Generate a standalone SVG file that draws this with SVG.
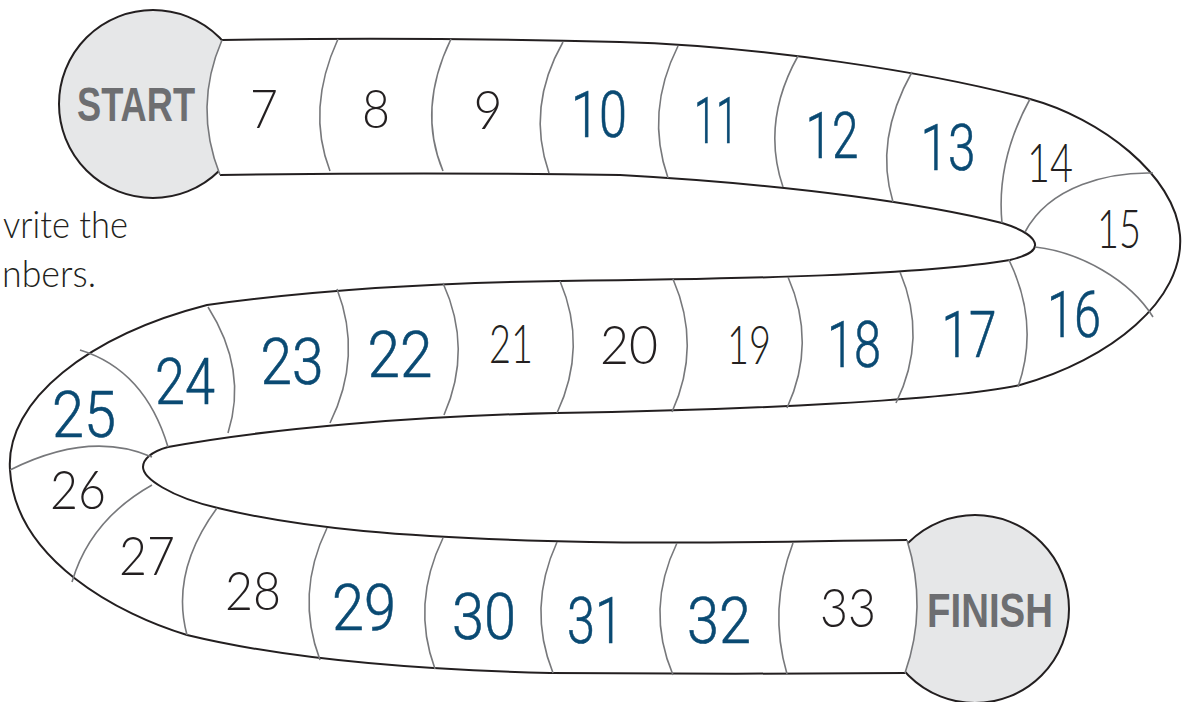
<svg xmlns="http://www.w3.org/2000/svg" width="1187" height="702" viewBox="0 0 1187 702">
<style>
.edge{fill:none;stroke:#231f20;stroke-width:2}
.div{fill:none;stroke:#77787b;stroke-width:1.6}
.circ{fill:#e6e7e8;stroke:#231f20;stroke-width:2}
.blk{font-family:Lato,"Open Sans",sans-serif;font-weight:300;font-size:53px;fill:#231f20;text-anchor:middle}
.blu{font-family:Roboto,"Open Sans",sans-serif;font-weight:300;font-size:65px;fill:#0a4a73;text-anchor:middle;stroke:#0a4a73;stroke-width:0.6}
.lbl{font-family:"Liberation Sans",Arial,sans-serif;font-weight:700;font-size:49px;fill:#6d6e71;text-anchor:middle}
.ins{font-family:Lato,"Open Sans",sans-serif;font-weight:300;font-size:37px;fill:#231f20}
</style>
<rect width="1187" height="702" fill="#ffffff"/>
<text class="ins" x="3" y="238" textLength="125" lengthAdjust="spacingAndGlyphs">vrite the</text>
<text class="ins" x="2" y="287" textLength="94" lengthAdjust="spacingAndGlyphs">nbers.</text>
<g id="start"><circle class="circ" cx="153" cy="104" r="94"/></g>
<g id="finish"><circle class="circ" cx="975" cy="609" r="94"/></g>
<g id="track">
<path fill="#ffffff" d="M222,40 C350,38 500,39 620,42 C760,46 930,72 1030,99 C1100,118 1175,175 1180,235 C1185,300 1110,360 1020,385 C950,400 750,410 557,413 C420,416 270,428 168,447 C150,452 143,460 143,467 C143,478 170,497 218,508 C300,528 400,538 590,542 C700,544 800,541 907,540 Q928,607.5 905,673 C800,674 650,674 550,673 C420,670 290,660 187,635 C120,615 15,560 10,470 C5,400 90,335 207,305 C300,292 420,283 560,281 C750,279 920,275 1010,260 C1030,255 1036,250 1035,244 C1034,238 1025,230 1002,223 C930,205 800,185 620,175 C500,173 350,173 220,175 Q193,107 222,40 Z"/>
<path class="edge" d="M222,40 C350,38 500,39 620,42 C760,46 930,72 1030,99 C1100,118 1175,175 1180,235 C1185,300 1110,360 1020,385 C950,400 750,410 557,413 C420,416 270,428 168,447 C150,452 143,460 143,467 C143,478 170,497 218,508 C300,528 400,538 590,542 C700,544 800,541 907,540"/>
<path class="edge" d="M905,673 C800,674 650,674 550,673 C420,670 290,660 187,635 C120,615 15,560 10,470 C5,400 90,335 207,305 C300,292 420,283 560,281 C750,279 920,275 1010,260 C1030,255 1036,250 1035,244 C1034,238 1025,230 1002,223 C930,205 800,185 620,175 C500,173 350,173 220,175"/>
</g>
<g id="connectors">
<path class="div" d="M222,40 Q193,107 220,175"/>
<path class="div" d="M338,39 Q306,109 330,171"/>
<path class="div" d="M451,39 Q417,109 443,171"/>
<path class="div" d="M563,42 Q526,107 549,173"/>
<path class="div" d="M678,46 Q645,112 668,178"/>
<path class="div" d="M798,56 Q761,122 783,187"/>
<path class="div" d="M912,72 Q874,140 893,202"/>
<path class="div" d="M1030,99 Q996,161 1002,223"/>
<path class="div" d="M1153,173 C1110,172 1050,185 1025,232"/>
<path class="div" d="M1035,247 C1080,252 1130,280 1153,317"/>
<path class="div" d="M1009,260 Q1040,324 1018,387"/>
<path class="div" d="M900,272 Q928,338 896,403"/>
<path class="div" d="M788,277 Q817,343 787,408"/>
<path class="div" d="M673,279 Q702,346 672,412"/>
<path class="div" d="M560,281 Q588,347 557,413"/>
<path class="div" d="M443,283 Q473,349 444,415"/>
<path class="div" d="M337,289 Q363,356 330,423"/>
<path class="div" d="M208,307 Q248,370 228,433"/>
<path class="div" d="M80,350 Q145,370 168,447"/>
<path class="div" d="M10,470 Q90,430 152,457"/>
<path class="div" d="M152,485 Q90,520 72,582"/>
<path class="div" d="M217,508 Q170,572 187,635"/>
<path class="div" d="M327,528 Q295,594 320,660"/>
<path class="div" d="M443,538 Q411,604 435,669"/>
<path class="div" d="M557,542 Q527,608 553,673"/>
<path class="div" d="M677,543 Q645,609 673,675"/>
<path class="div" d="M793,543 Q768,609 787,674"/>
<path class="div" d="M907,540 Q928,607.5 905,673"/>
</g>
<g id="labels">
<text class="lbl" x="136" y="121" textLength="118" lengthAdjust="spacingAndGlyphs">START</text>
<text class="lbl" x="990" y="627" textLength="126" lengthAdjust="spacingAndGlyphs">FINISH</text>
</g>
<g id="cells">
<text class="blk" x="264" y="128" textLength="28" lengthAdjust="spacingAndGlyphs">7</text>
<text class="blk" x="376" y="128" textLength="28" lengthAdjust="spacingAndGlyphs">8</text>
<text class="blk" x="488" y="129" textLength="29" lengthAdjust="spacingAndGlyphs">9</text>
<text class="blu" x="599" y="137" textLength="56" lengthAdjust="spacingAndGlyphs">10</text>
<text class="blu" x="716" y="143" textLength="44" lengthAdjust="spacingAndGlyphs">11</text>
<text class="blu" x="832" y="158" textLength="53" lengthAdjust="spacingAndGlyphs">12</text>
<text class="blu" x="948" y="170" textLength="55" lengthAdjust="spacingAndGlyphs">13</text>
<text class="blk" x="1050" y="182" textLength="46" lengthAdjust="spacingAndGlyphs">14</text>
<text class="blk" x="1119" y="248" textLength="44" lengthAdjust="spacingAndGlyphs">15</text>
<text class="blu" x="1074" y="337" textLength="54" lengthAdjust="spacingAndGlyphs">16</text>
<text class="blu" x="969" y="357" textLength="55" lengthAdjust="spacingAndGlyphs">17</text>
<text class="blu" x="854" y="367" textLength="54" lengthAdjust="spacingAndGlyphs">18</text>
<text class="blk" x="749" y="364" textLength="44" lengthAdjust="spacingAndGlyphs">19</text>
<text class="blk" x="629" y="364" textLength="58" lengthAdjust="spacingAndGlyphs">20</text>
<text class="blk" x="511" y="363" textLength="44" lengthAdjust="spacingAndGlyphs">21</text>
<text class="blu" x="400" y="377" textLength="65" lengthAdjust="spacingAndGlyphs">22</text>
<text class="blu" x="292" y="384" textLength="63" lengthAdjust="spacingAndGlyphs">23</text>
<text class="blu" x="185" y="404" textLength="60" lengthAdjust="spacingAndGlyphs">24</text>
<text class="blu" x="84" y="437" textLength="64" lengthAdjust="spacingAndGlyphs">25</text>
<text class="blk" x="78" y="509" textLength="56" lengthAdjust="spacingAndGlyphs">26</text>
<text class="blk" x="147" y="575" textLength="56" lengthAdjust="spacingAndGlyphs">27</text>
<text class="blk" x="253" y="610" textLength="56" lengthAdjust="spacingAndGlyphs">28</text>
<text class="blu" x="364" y="630" textLength="64" lengthAdjust="spacingAndGlyphs">29</text>
<text class="blu" x="484" y="639" textLength="64" lengthAdjust="spacingAndGlyphs">30</text>
<text class="blu" x="595" y="643" textLength="56" lengthAdjust="spacingAndGlyphs">31</text>
<text class="blu" x="719" y="643" textLength="64" lengthAdjust="spacingAndGlyphs">32</text>
<text class="blk" x="848" y="627" textLength="56" lengthAdjust="spacingAndGlyphs">33</text>
</g>
</svg>
